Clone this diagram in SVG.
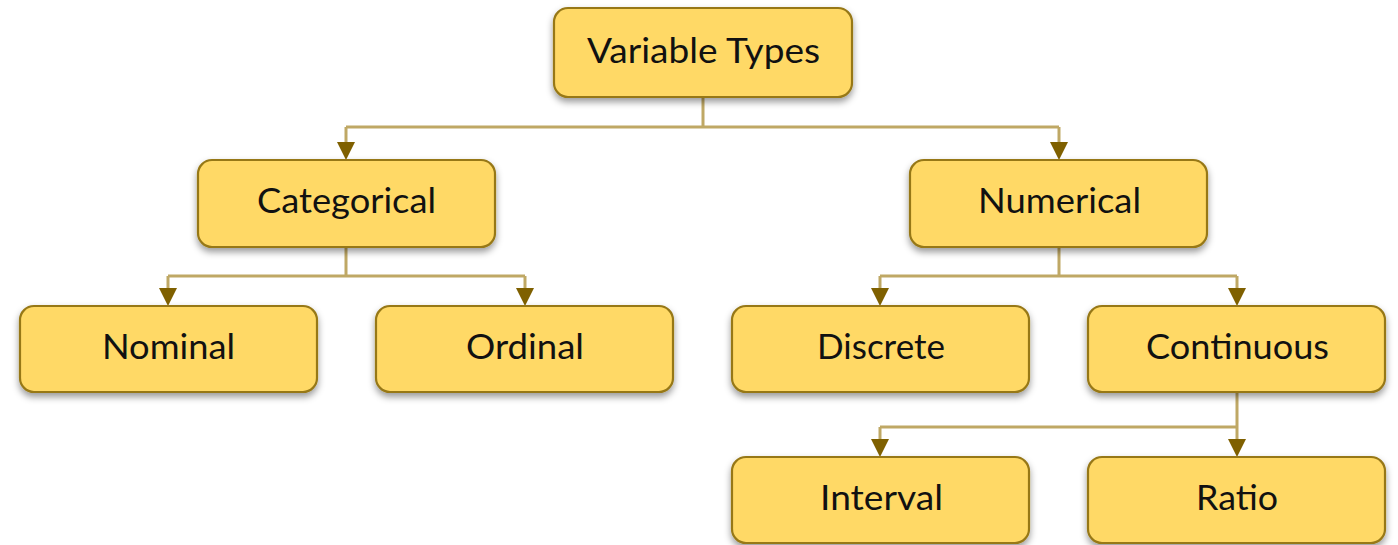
<svg xmlns="http://www.w3.org/2000/svg" width="1398" height="545" viewBox="0 0 1398 545">
  <style>
    .box { fill: #FFD966; stroke: #977818; stroke-width: 2.2; filter: url(#shadow); }
    .label { font-family: Lato, "Open Sans", "Liberation Sans", sans-serif; font-size: 35px; fill: #111; text-anchor: middle; }
    .wire { fill: none; stroke: #BFA865; stroke-width: 3; }
    .drop { marker-end: url(#arrow); }
  </style>
  <defs>
    <filter id="shadow" x="-10%" y="-20%" width="120%" height="150%">
      <feDropShadow dx="0" dy="4" stdDeviation="3.5" flood-color="#000" flood-opacity="0.4"/>
    </filter>
    <marker id="arrow" viewBox="0 0 18 18" markerUnits="userSpaceOnUse" markerWidth="18" markerHeight="18" refX="14" refY="9" orient="auto">
      <path d="M0,0 L18,9 L0,18 Z" fill="#7F6000"/>
    </marker>
  </defs>

  <!-- connectors -->
  <g id="connectors">
    <!-- root to level 1 -->
    <path class="wire" d="M703,97 V127 M346,127 H1059"/>
    <path class="wire drop" d="M346,127 V156"/>
    <path class="wire drop" d="M1059,127 V156"/>
    <!-- Categorical children -->
    <path class="wire" d="M346,247 V276 M168,276 H525"/>
    <path class="wire drop" d="M168,276 V302"/>
    <path class="wire drop" d="M525,276 V302"/>
    <!-- Numerical children -->
    <path class="wire" d="M1059,247 V276 M880,276 H1237"/>
    <path class="wire drop" d="M880,276 V302"/>
    <path class="wire drop" d="M1237,276 V302"/>
    <!-- Continuous children -->
    <path class="wire" d="M1237,392 V427 M880,427 H1237"/>
    <path class="wire drop" d="M880,427 V453"/>
    <path class="wire drop" d="M1237,427 V453"/>
  </g>

  <g id="variable-types">
    <rect class="box" x="554" y="8" width="298" height="89" rx="14"/>
    <text class="label" x="703.5" y="63" textLength="233" lengthAdjust="spacingAndGlyphs">Variable Types</text>
  </g>
  <g id="categorical">
    <rect class="box" x="198" y="160" width="297" height="87" rx="14"/>
    <text class="label" x="346.5" y="213" textLength="179" lengthAdjust="spacingAndGlyphs">Categorical</text>
  </g>
  <g id="numerical">
    <rect class="box" x="910" y="160" width="297" height="87" rx="14"/>
    <text class="label" x="1059.5" y="213" textLength="163" lengthAdjust="spacingAndGlyphs">Numerical</text>
  </g>
  <g id="nominal">
    <rect class="box" x="20" y="306" width="297" height="86" rx="14"/>
    <text class="label" x="168.5" y="359" textLength="133" lengthAdjust="spacingAndGlyphs">Nominal</text>
  </g>
  <g id="ordinal">
    <rect class="box" x="376" y="306" width="297" height="86" rx="14"/>
    <text class="label" x="525" y="359" textLength="118" lengthAdjust="spacingAndGlyphs">Ordinal</text>
  </g>
  <g id="discrete">
    <rect class="box" x="732" y="306" width="297" height="86" rx="14"/>
    <text class="label" x="881" y="359" textLength="128" lengthAdjust="spacingAndGlyphs">Discrete</text>
  </g>
  <g id="continuous">
    <rect class="box" x="1088" y="306" width="297" height="86" rx="14"/>
    <text class="label" x="1237.5" y="359" textLength="183" lengthAdjust="spacingAndGlyphs">Continuous</text>
  </g>
  <g id="interval">
    <rect class="box" x="732" y="457" width="297" height="86" rx="14"/>
    <text class="label" x="881.5" y="510" textLength="123" lengthAdjust="spacingAndGlyphs">Interval</text>
  </g>
  <g id="ratio">
    <rect class="box" x="1088" y="457" width="297" height="86" rx="14"/>
    <text class="label" x="1237" y="510" textLength="82" lengthAdjust="spacingAndGlyphs">Ratio</text>
  </g>
</svg>
